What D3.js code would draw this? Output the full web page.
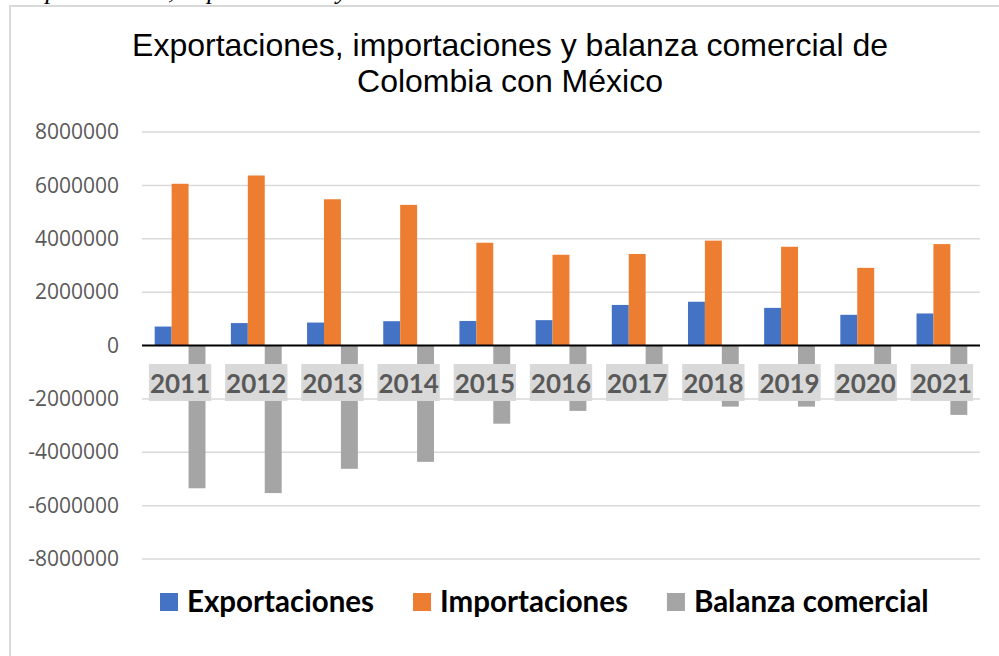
<!DOCTYPE html>
<html>
<head>
<meta charset="utf-8">
<script src="https://cdn.jsdelivr.net/npm/d3@7"></script>
<style>
  html, body { margin: 0; padding: 0; background: #fff; }
  svg { display: block; }
</style>
</head>
<body>
<div id="chart"></div>
<script>
// data
const years = ["2011", "2012", "2013", "2014", "2015", "2016", "2017", "2018", "2019", "2020", "2021"];
const exportaciones = [710000, 840000, 860000, 910000, 920000, 950000, 1520000, 1640000, 1410000, 1150000, 1200000];
const importaciones = [6060000, 6370000, 5480000, 5270000, 3850000, 3400000, 3430000, 3930000, 3700000, 2910000, 3800000];
const balanza = [-5350000, -5530000, -4620000, -4360000, -2930000, -2450000, -1910000, -2290000, -2290000, -1760000, -2600000];
const yTicks = [-8000000, -6000000, -4000000, -2000000, 0, 2000000, 4000000, 6000000, 8000000];

const seriesNames = ["Exportaciones", "Importaciones", "Balanza comercial"];
const colors = ["#4472c4", "#ed7d31", "#a5a5a5"];

const W = 999, H = 656;
const plot = { left: 142, right: 980, top: 132, bottom: 559 };

const svg = d3.select("#chart")
    .append("svg")
    .attr("width", W)
    .attr("height", H);

// cut-off caption above the frame
svg.append("text")
    .attr("x", 18)
    .attr("y", -1)
    .style("font-family", "Liberation Serif")
    .style("font-style", "italic")
    .style("font-size", "26px")
    .attr("fill", "#000")
    .text("Exportaciones, importaciones y balanza comercial de Colombia con México");

// frame
svg.append("line").attr("x1", 9).attr("x2", W).attr("y1", 6).attr("y2", 6)
    .attr("stroke", "#d9d9d9").attr("stroke-width", 2);
svg.append("line").attr("x1", 10).attr("x2", 10).attr("y1", 5).attr("y2", H)
    .attr("stroke", "#d9d9d9").attr("stroke-width", 2);

// title
const title = svg.append("text")
    .attr("text-anchor", "middle")
    .style("font-family", "Liberation Sans, Arial")
    .style("font-size", "32px")
    .attr("fill", "#000");
title.append("tspan").attr("x", 510).attr("y", 56).text("Exportaciones, importaciones y balanza comercial de");
title.append("tspan").attr("x", 510).attr("y", 92).text("Colombia con México");

const y = d3.scaleLinear()
    .domain([-8000000, 8000000])
    .range([plot.bottom, plot.top]);

const x0 = d3.scaleBand()
    .domain(years)
    .range([plot.left, plot.right])
    .paddingInner(1 / 3)
    .paddingOuter(1 / 6);

const x1 = d3.scaleBand()
    .domain(d3.range(3))
    .range([0, x0.bandwidth()]);

// gridlines
svg.append("g")
    .selectAll("line")
    .data(yTicks.filter(t => t !== 0))
    .enter()
    .append("line")
    .attr("x1", plot.left)
    .attr("x2", plot.right)
    .attr("y1", d => y(d))
    .attr("y2", d => y(d))
    .attr("stroke", "#d9d9d9")
    .attr("stroke-width", 1.5);

// y axis labels
const yAxis = svg.append("g")
    .attr("transform", "translate(" + (plot.left - 23) + ",0)")
    .call(d3.axisLeft(y).tickValues(yTicks).tickSize(0).tickPadding(0).tickFormat(d => String(d)));
yAxis.select(".domain").remove();
yAxis.selectAll("text")
    .style("font-family", "Open Sans")
    .style("font-size", "21px")
    .attr("fill", "#595959");

// bars
const rows = years.map((yr, i) => ({ year: yr, values: [exportaciones[i], importaciones[i], balanza[i]] }));

svg.append("g")
    .selectAll("g")
    .data(rows)
    .enter()
    .append("g")
    .attr("transform", d => "translate(" + x0(d.year) + ",0)")
    .selectAll("rect")
    .data(d => d.values.map((v, k) => ({ k, v })))
    .enter()
    .append("rect")
    .attr("x", d => x1(d.k))
    .attr("width", x1.bandwidth())
    .attr("y", d => y(Math.max(0, d.v)))
    .attr("height", d => Math.abs(y(d.v) - y(0)))
    .attr("fill", d => colors[d.k]);

// zero line
svg.append("line")
    .attr("x1", plot.left)
    .attr("x2", plot.right)
    .attr("y1", y(0))
    .attr("y2", y(0))
    .attr("stroke", "#000")
    .attr("stroke-width", 2);

// category labels with grey boxes
const cat = svg.append("g")
    .selectAll("g")
    .data(years)
    .enter()
    .append("g");

cat.append("text")
    .attr("x", d => x0(d) + x0.bandwidth() / 2)
    .attr("y", 393)
    .attr("text-anchor", "middle")
    .style("font-family", "Lato")
    .style("font-weight", "bold")
    .style("font-size", "26px")
    .attr("fill", "#595959")
    .text(d => d);

cat.each(function () {
    const g = d3.select(this);
    const b = g.select("text").node().getBBox();
    g.insert("rect", "text")
        .attr("x", b.x - 1)
        .attr("y", 364)
        .attr("width", b.width + 2)
        .attr("height", 37)
        .attr("fill", "#d9d9d9");
});

// legend
const legend = svg.append("g");
const items = legend.selectAll("g")
    .data(seriesNames)
    .enter()
    .append("g");

items.append("rect")
    .attr("width", 18)
    .attr("height", 18)
    .attr("y", 593)
    .attr("fill", (d, i) => colors[i]);

items.append("text")
    .attr("x", 27)
    .attr("y", 612)
    .style("font-family", "Lato")
    .style("font-weight", "bold")
    .style("font-size", "29.5px")
    .attr("fill", "#000")
    .text(d => d);

let widths = [];
items.each(function () { widths.push(d3.select(this).select("text").node().getComputedTextLength()); });
const gap = 39;
let cx = 160;
items.each(function (d, i) {
    d3.select(this).attr("transform", "translate(" + cx + ",0)");
    cx += widths[i] + 27 + gap;
});
</script>
</body>
</html>
